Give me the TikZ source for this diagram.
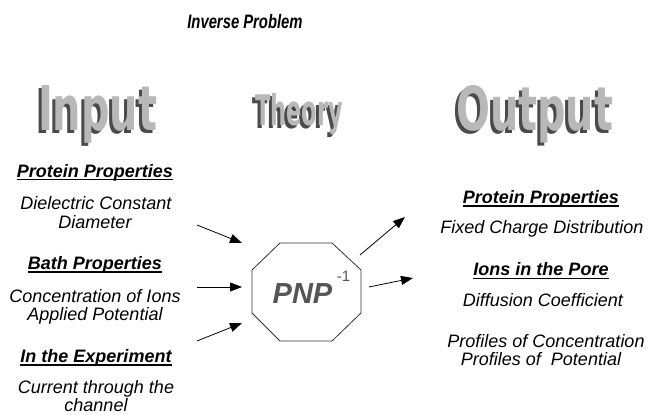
\documentclass[tikz,border=0pt]{standalone}
\usepackage{fontspec}
\setmainfont{Liberation Sans}
\newfontfamily\artfont{DejaVu Sans Condensed}
\usetikzlibrary{arrows.meta}
\definecolor{shadowgray}{HTML}{4A4A4A}
\definecolor{artgray}{HTML}{B8B8B8}
\definecolor{pnpgray}{HTML}{555555}
\definecolor{linegray}{HTML}{333333}
\tikzset{
  txt/.style={inner sep=0pt, anchor=base, font=\fontsize{18}{18}\selectfont\itshape},
  head/.style={inner sep=0pt, anchor=base, font=\fontsize{18}{18}\selectfont\bfseries\itshape},
  uline/.style={line width=1.5pt},
  arr/.style={line width=0.8pt, -{Triangle[length=12pt,width=9pt]}},
  wordshadow/.style={inner sep=0pt, anchor=base west, text=shadowgray},
  wordmain/.style={inner sep=0pt, anchor=base west, text=artgray},
}
\newcommand\wInput{\resizebox{119pt}{45pt}{\artfont\bfseries Input}}
\newcommand\wTheory{\resizebox{88pt}{32pt}{\artfont\bfseries Theory}}
\newcommand\wOutput{\resizebox{157pt}{45pt}{\artfont\bfseries Output}}
\begin{document}
\begin{tikzpicture}[x=1pt,y=-1pt]
\useasboundingbox (0,0) rectangle (649,415);
\fill[white] (0,0) rectangle (649,415);

% title
\node[inner sep=0pt, anchor=base] (title) at (245,28.3)
  {\scalebox{0.76}[1]{\fontsize{19.5}{19.5}\selectfont\bfseries\itshape Inverse Problem}};

% word art headings: drop shadow, then the word
\node[wordshadow] (inps) at (35,133) {\wInput};
\node[wordmain] (inp) at (38,130) {\wInput};
\node[wordshadow] (thys) at (252,128) {\wTheory};
\node[wordmain] (thy) at (255,125) {\wTheory};
\node[wordshadow] (outs) at (453,133) {\wOutput};
\node[wordmain] (outw) at (456,130) {\wOutput};

% left column
\node[head] (lh1) at (95,177) {Protein Properties};
\draw[uline] ([yshift=-2.7pt]lh1.base west) -- ([yshift=-2.7pt]lh1.base east);
\node[txt] (l1a) at (96,209) {Dielectric Constant};
\node[txt] (l1b) at (95,228) {Diameter};
\node[head] (lh2) at (95,269.5) {Bath Properties};
\draw[uline] ([yshift=-2.7pt]lh2.base west) -- ([yshift=-2.7pt]lh2.base east);
\node[txt] (l2a) at (95,302) {Concentration of Ions};
\node[txt] (l2b) at (95,320) {Applied Potential};
\node[head] (lh3) at (96,362.3) {In the Experiment};
\draw[uline] ([yshift=-2.7pt]lh3.base west) -- ([yshift=-2.7pt]lh3.base east);
\node[txt] (l3a) at (96,393.3) {Current through the};
\node[txt] (l3b) at (96,411.3) {channel};

% right column
\node[head] (rh1) at (541,203.3) {Protein Properties};
\draw[uline] ([yshift=-2.7pt]rh1.base west) -- ([yshift=-2.7pt]rh1.base east);
\node[txt] (r1a) at (542,233.3) {Fixed Charge Distribution};
\node[head] (rh2) at (541,275.7) {Ions in the Pore};
\draw[uline] ([yshift=-2.7pt]rh2.base west) -- ([yshift=-2.7pt]rh2.base east);
\node[txt] (r2a) at (543,306) {Diffusion Coefficient};
\node[txt] (r2b) at (546,347.7) {Profiles of Concentration};
\node[txt] (r2c) at (541,365.7) {Profiles of~ Potential};

% octagon
\draw[linegray, line width=0.8pt] (280,243) -- (332,243) -- (361,270) -- (361,313)
  -- (332,341) -- (280,341) -- (252,313) -- (252,270) -- cycle;
\node[inner sep=0pt, anchor=base, text=pnpgray, font=\fontsize{29}{29}\selectfont\bfseries\itshape] (pnp) at (302.5,303.3) {PNP};
\node[inner sep=0pt, anchor=base, text=pnpgray, font=\fontsize{15}{15}\selectfont] (pnpexp) at (343.5,281.7) {-1};

% arrows
\coordinate (a1s) at (197,225); \coordinate (a1e) at (242,243);
\coordinate (a2s) at (197,287); \coordinate (a2e) at (242,287);
\coordinate (a3s) at (197,341); \coordinate (a3e) at (242,323);
\coordinate (b1s) at (360,255); \coordinate (b1e) at (405,217);
\coordinate (b2s) at (369,287); \coordinate (b2e) at (413,278);
\draw[arr] (a1s) -- (a1e);
\draw[arr] (a2s) -- (a2e);
\draw[arr] (a3s) -- (a3e);
\draw[arr] (b1s) -- (b1e);
\draw[arr] (b2s) -- (b2e);
\end{tikzpicture}
\end{document}
